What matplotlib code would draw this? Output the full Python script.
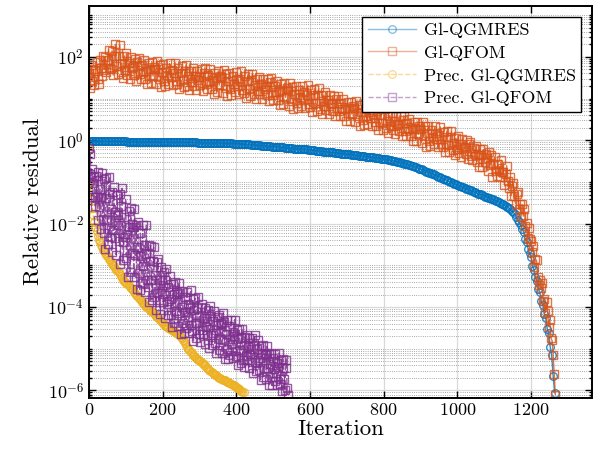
import numpy as np
import matplotlib
matplotlib.use("Agg")
import matplotlib.pyplot as plt
from matplotlib.ticker import FixedLocator, LogLocator, FuncFormatter, NullFormatter

# values are log10(relative residual)

# Gl-QGMRES, every 4th iteration
qgmres_iter = np.arange(0, 1265, 4)
qgmres_log = [
    -0.02, -0.02, -0.02, -0.02, -0.02, -0.03, -0.03, -0.03, -0.03, -0.03, -0.03, -0.03, -0.03, -0.03, -0.03, -0.03, -0.03, -0.03, -0.03, -0.03,
    -0.03, -0.03, -0.03, -0.03, -0.03, -0.03, -0.04, -0.04, -0.04, -0.04, -0.04, -0.04, -0.04, -0.04, -0.04, -0.04, -0.04, -0.04, -0.04, -0.04,
    -0.04, -0.04, -0.04, -0.04, -0.04, -0.04, -0.04, -0.04, -0.05, -0.05, -0.05, -0.05, -0.05, -0.05, -0.05, -0.05, -0.05, -0.05, -0.05, -0.05,
    -0.05, -0.05, -0.05, -0.05, -0.05, -0.05, -0.05, -0.05, -0.05, -0.05, -0.05, -0.05, -0.05, -0.05, -0.06, -0.06, -0.06, -0.06, -0.06, -0.06,
    -0.06, -0.06, -0.06, -0.06, -0.06, -0.06, -0.06, -0.06, -0.07, -0.07, -0.07, -0.07, -0.07, -0.07, -0.07, -0.07, -0.07, -0.07, -0.08, -0.08,
    -0.08, -0.08, -0.08, -0.09, -0.09, -0.09, -0.10, -0.10, -0.10, -0.10, -0.11, -0.11, -0.11, -0.12, -0.12, -0.12, -0.12, -0.13, -0.13, -0.13,
    -0.13, -0.14, -0.14, -0.14, -0.15, -0.15, -0.15, -0.16, -0.16, -0.16, -0.17, -0.17, -0.17, -0.18, -0.18, -0.18, -0.19, -0.19, -0.19, -0.20,
    -0.20, -0.20, -0.20, -0.21, -0.21, -0.21, -0.22, -0.22, -0.22, -0.23, -0.23, -0.23, -0.24, -0.24, -0.25, -0.25, -0.25, -0.26, -0.26, -0.27,
    -0.27, -0.27, -0.28, -0.28, -0.29, -0.29, -0.29, -0.30, -0.30, -0.31, -0.31, -0.32, -0.32, -0.32, -0.33, -0.33, -0.34, -0.34, -0.35, -0.35,
    -0.35, -0.36, -0.36, -0.37, -0.37, -0.37, -0.38, -0.38, -0.39, -0.39, -0.40, -0.40, -0.41, -0.41, -0.42, -0.42, -0.43, -0.43, -0.44, -0.44,
    -0.45, -0.45, -0.46, -0.47, -0.47, -0.48, -0.49, -0.50, -0.50, -0.51, -0.52, -0.53, -0.54, -0.55, -0.56, -0.57, -0.58, -0.59, -0.60, -0.61,
    -0.62, -0.63, -0.65, -0.66, -0.68, -0.69, -0.70, -0.72, -0.73, -0.75, -0.76, -0.78, -0.79, -0.81, -0.82, -0.84, -0.85, -0.87, -0.88, -0.90,
    -0.92, -0.93, -0.95, -0.96, -0.98, -1.00, -1.01, -1.03, -1.04, -1.06, -1.07, -1.09, -1.10, -1.12, -1.13, -1.15, -1.16, -1.17, -1.19, -1.20,
    -1.22, -1.23, -1.25, -1.26, -1.28, -1.29, -1.30, -1.32, -1.33, -1.35, -1.36, -1.38, -1.39, -1.40, -1.42, -1.43, -1.45, -1.46, -1.48, -1.50,
    -1.52, -1.54, -1.56, -1.58, -1.60, -1.63, -1.66, -1.69, -1.73, -1.78, -1.84, -1.91, -1.97, -2.04, -2.13, -2.19, -2.37, -2.44, -2.61, -2.71,
    -2.80, -3.02, -3.10, -3.29, -3.37, -3.56, -3.65, -3.86, -3.95, -4.17, -4.27, -4.52, -4.63, -4.95, -5.15, -5.65, -6.05,
]

# Gl-QFOM, every 3rd iteration
qfom_iter = np.arange(0, 1267, 3)
qfom_log = [
    1.62, 1.25, 1.80, 1.42, 1.70, 1.32, 1.67, 1.87, 1.47, 1.34, 1.92, 1.74, 1.54, 2.02, 1.69, 2.00, 1.63, 1.93, 2.17, 1.73,
    1.70, 2.15, 1.56, 2.01, 2.30, 1.79, 1.59, 2.02, 2.28, 1.63, 1.86, 1.49, 2.02, 1.69, 2.08, 1.57, 1.85, 1.46, 1.99, 1.73,
    1.77, 1.57, 1.95, 1.43, 1.87, 1.98, 1.58, 1.46, 1.80, 1.64, 1.93, 1.47, 1.67, 1.35, 1.85, 1.72, 1.38, 1.88, 1.54, 1.76,
    1.72, 1.35, 1.90, 1.52, 1.80, 1.28, 1.63, 1.83, 1.43, 1.30, 1.74, 1.56, 1.36, 1.84, 1.51, 1.69, 1.32, 1.62, 1.86, 1.42,
    1.34, 1.74, 1.22, 1.62, 1.78, 1.45, 1.27, 1.65, 1.81, 1.31, 1.53, 1.21, 1.67, 1.39, 1.73, 1.31, 1.55, 1.21, 1.67, 1.45,
    1.52, 1.32, 1.70, 1.18, 1.62, 1.74, 1.34, 1.22, 1.56, 1.40, 1.70, 1.24, 1.44, 1.12, 1.62, 1.50, 1.16, 1.66, 1.32, 1.54,
    1.51, 1.14, 1.69, 1.31, 1.59, 1.07, 1.42, 1.62, 1.22, 1.09, 1.53, 1.35, 1.15, 1.63, 1.30, 1.48, 1.11, 1.41, 1.65, 1.21,
    1.14, 1.54, 1.02, 1.42, 1.58, 1.24, 1.06, 1.44, 1.60, 1.10, 1.32, 1.00, 1.46, 1.18, 1.52, 1.10, 1.34, 1.00, 1.46, 1.24,
    1.29, 1.09, 1.47, 0.95, 1.39, 1.49, 1.09, 0.97, 1.31, 1.15, 1.43, 0.97, 1.17, 0.85, 1.35, 1.21, 0.87, 1.37, 1.03, 1.25,
    1.20, 0.83, 1.38, 1.00, 1.28, 0.75, 1.10, 1.30, 0.90, 0.77, 1.21, 1.03, 0.83, 1.31, 0.98, 1.15, 0.78, 1.08, 1.32, 0.88,
    0.80, 1.20, 0.68, 1.08, 1.24, 0.89, 0.71, 1.09, 1.25, 0.75, 0.95, 0.63, 1.09, 0.81, 1.15, 0.72, 0.96, 0.62, 1.08, 0.86,
    0.89, 0.71, 1.06, 0.59, 0.98, 1.06, 0.70, 0.59, 0.90, 0.75, 0.99, 0.58, 0.76, 0.47, 0.92, 0.78, 0.47, 0.92, 0.62, 0.82,
    0.77, 0.44, 0.93, 0.59, 0.84, 0.35, 0.67, 0.85, 0.49, 0.37, 0.74, 0.58, 0.40, 0.83, 0.53, 0.68, 0.34, 0.61, 0.83, 0.43,
    0.35, 0.71, 0.24, 0.60, 0.74, 0.42, 0.25, 0.60, 0.74, 0.29, 0.47, 0.18, 0.59, 0.34, 0.65, 0.25, 0.46, 0.16, 0.57, 0.37,
    0.40, 0.22, 0.57, 0.10, 0.49, 0.58, 0.22, 0.11, 0.42, 0.27, 0.51, 0.10, 0.28, -0.01, 0.44, 0.30, -0.01, 0.44, 0.14, 0.34,
    0.28, -0.06, 0.44, 0.10, 0.35, -0.15, 0.17, 0.35, -0.02, -0.13, 0.24, 0.08, -0.10, 0.33, 0.04, 0.17, -0.17, 0.10, 0.32, -0.08,
    -0.17, 0.19, -0.28, 0.08, 0.22, -0.11, -0.28, 0.07, 0.21, -0.24, -0.07, -0.36, 0.05, -0.20, 0.11, -0.30, -0.09, -0.39, 0.02, -0.18,
    -0.17, -0.34, 0.00, -0.46, -0.08, -0.04, -0.38, -0.48, -0.19, -0.32, -0.13, -0.52, -0.35, -0.63, -0.20, -0.36, -0.64, -0.22, -0.51, -0.32,
    -0.43, -0.74, -0.27, -0.60, -0.36, -0.87, -0.57, -0.40, -0.74, -0.85, -0.57, -0.72, -0.89, -0.48, -0.76, -0.75, -1.07, -0.81, -0.61, -0.98,
    -1.14, -0.88, -1.33, -1.09, -1.03, -1.34, -1.52, -1.29, -1.23, -1.66, -1.53, -1.83, -1.54, -1.82, -1.65, -2.05, -1.98, -2.34, -2.10, -2.37,
    -2.41, -2.67, -2.53, -3.03, -2.85, -2.88, -3.29, -3.48, -3.35, -3.55, -3.42, -3.85, -3.81, -4.13, -3.89, -4.09, -4.47, -4.30, -4.74, -4.80,
    -5.15, -5.60, -6.10,
]

# Prec. Gl-QGMRES, every 3rd iteration
pqgmres_iter = np.arange(0, 421, 3)
pqgmres_log = [
    -0.22, -1.00, -1.38, -1.62, -1.80, -1.95, -2.07, -2.18, -2.30, -2.38, -2.45, -2.51, -2.57, -2.62, -2.66, -2.70, -2.75, -2.80, -2.84, -2.88,
    -2.92, -2.96, -2.99, -3.02, -3.06, -3.10, -3.13, -3.16, -3.21, -3.25, -3.30, -3.34, -3.37, -3.39, -3.42, -3.45, -3.48, -3.51, -3.54, -3.57,
    -3.60, -3.64, -3.67, -3.71, -3.74, -3.78, -3.81, -3.84, -3.87, -3.90, -3.93, -3.96, -3.99, -4.01, -4.04, -4.07, -4.09, -4.11, -4.12, -4.15,
    -4.18, -4.21, -4.24, -4.27, -4.30, -4.33, -4.36, -4.39, -4.42, -4.44, -4.46, -4.48, -4.50, -4.52, -4.53, -4.55, -4.57, -4.58, -4.59, -4.61,
    -4.63, -4.65, -4.68, -4.71, -4.74, -4.78, -4.82, -4.87, -4.91, -4.96, -5.00, -5.04, -5.08, -5.11, -5.14, -5.17, -5.19, -5.22, -5.24, -5.26,
    -5.28, -5.30, -5.33, -5.35, -5.38, -5.40, -5.43, -5.46, -5.48, -5.51, -5.53, -5.55, -5.58, -5.60, -5.62, -5.64, -5.66, -5.68, -5.69, -5.71,
    -5.73, -5.74, -5.75, -5.76, -5.78, -5.79, -5.80, -5.81, -5.82, -5.84, -5.86, -5.88, -5.90, -5.91, -5.93, -5.95, -5.97, -5.99, -6.01, -6.03,
    -6.04,
]

# Prec. Gl-QFOM, every 2nd iteration
pqfom_iter = np.arange(0, 541, 2)
pqfom_log = [
    -0.19, -0.80, -0.33, -0.85, -0.69, -1.35, -1.03, -0.87, -1.37, -1.57, -0.86, -1.35, -1.92, -0.76, -1.59, -1.18, -2.13, -1.35, -0.78, -1.88,
    -2.22, -0.94, -2.61, -1.38, -0.90, -1.92, -2.49, -1.30, -0.87, -2.33, -1.65, -2.67, -1.24, -2.16, -1.13, -2.35, -1.72, -2.74, -1.31, -2.03,
    -1.80, -2.42, -1.29, -2.96, -1.58, -1.15, -2.43, -2.86, -1.84, -2.32, -1.40, -2.83, -2.25, -3.28, -1.70, -2.08, -3.15, -1.63, -2.70, -2.02,
    -2.07, -3.28, -1.65, -2.76, -2.03, -3.57, -2.55, -1.96, -3.18, -3.58, -2.23, -2.78, -3.43, -2.03, -3.01, -2.52, -3.64, -2.72, -2.04, -3.35,
    -3.53, -2.52, -3.87, -2.90, -2.53, -3.36, -3.83, -2.90, -2.57, -3.76, -3.23, -4.06, -2.92, -3.67, -2.85, -3.84, -3.34, -4.17, -3.03, -3.62,
    -3.47, -3.88, -3.15, -4.25, -3.35, -3.08, -3.92, -4.20, -3.53, -3.85, -3.25, -4.18, -3.80, -4.47, -3.44, -3.68, -4.39, -3.39, -4.09, -3.65,
    -3.69, -4.46, -3.42, -4.13, -3.66, -4.64, -3.99, -3.61, -4.38, -4.63, -3.77, -4.11, -4.51, -3.63, -4.24, -3.92, -4.62, -4.03, -3.60, -4.42,
    -4.58, -3.81, -4.81, -4.07, -3.78, -4.39, -4.73, -4.02, -3.76, -4.64, -4.23, -4.84, -3.99, -4.54, -3.92, -4.65, -4.27, -4.89, -4.03, -4.47,
    -4.34, -4.68, -4.06, -4.98, -4.21, -3.98, -4.68, -4.91, -4.34, -4.61, -4.09, -4.87, -4.55, -5.11, -4.24, -4.43, -5.02, -4.18, -4.77, -4.39,
    -4.40, -5.10, -4.15, -4.79, -4.36, -5.25, -4.65, -4.31, -5.01, -5.24, -4.45, -4.76, -5.14, -4.32, -4.88, -4.59, -5.23, -4.70, -4.30, -5.06,
    -5.18, -4.54, -5.38, -4.77, -4.53, -5.04, -5.33, -4.73, -4.53, -5.27, -4.92, -5.44, -4.72, -5.18, -4.66, -5.28, -4.96, -5.47, -4.75, -5.12,
    -5.00, -5.31, -4.74, -5.59, -4.90, -4.68, -5.32, -5.53, -5.01, -5.26, -4.79, -5.51, -5.21, -5.74, -4.94, -5.13, -5.67, -4.91, -5.45, -5.11,
    -5.15, -5.72, -4.94, -5.47, -5.13, -5.86, -5.37, -5.09, -5.68, -5.87, -5.22, -5.48, -5.78, -5.12, -5.58, -5.34, -5.87, -5.43, -5.10, -5.72,
    -5.84, -5.26, -6.02, -5.46, -5.25, -5.72, -5.98, -5.45, -5.26, -5.93, -6.10,
]

labels = ["Gl-QGMRES", "Gl-QFOM", "Prec. Gl-QGMRES", "Prec. Gl-QFOM"]
colors = ["#0072BD", "#D95319", "#EDB120", "#7E2F8E"]

plt.rcParams["font.family"] = "serif"
plt.rcParams["font.serif"] = ["cmr10"]
plt.rcParams["mathtext.fontset"] = "cm"
plt.rcParams["axes.formatter.use_mathtext"] = True

fig = plt.figure(figsize=(5.96, 4.57), dpi=100)
ax = fig.add_axes([0.149, 0.130, 0.844, 0.857])

series = [
    (qgmres_iter, qgmres_log, "-", "o"),
    (qfom_iter, qfom_log, "-", "s"),
    (pqgmres_iter, pqgmres_log, "--", "o"),
    (pqfom_iter, pqfom_log, "--", "s"),
]
for (x, y, ls, mk), lab, c in zip(series, labels, colors):
    ax.semilogy(x, 10.0 ** np.asarray(y), ls=ls, marker=mk, color=c,
                mfc="none", mec=c, ms=5.5, mew=1.0, lw=1.0, alpha=0.8,
                label=lab)

ax.set_xlim(0, 1365)
ax.set_ylim(10 ** -6.17, 10 ** 3.22)
ax.set_xticks([0, 200, 400, 600, 800, 1000, 1200])
ax.yaxis.set_major_locator(FixedLocator([1e-6, 1e-4, 1e-2, 1e0, 1e2]))
ax.yaxis.set_major_formatter(FuncFormatter(lambda v, p: r"$10^{%d}$" % round(np.log10(v))))
ax.yaxis.set_minor_locator(LogLocator(base=10, subs=np.arange(1, 10), numticks=30))
ax.yaxis.set_minor_formatter(NullFormatter())

ax.grid(True, which="major", color="0.85", lw=0.9, ls="-")
ax.grid(True, which="minor", axis="y", color="0.55", lw=0.6, ls=":")
ax.set_axisbelow(True)

ax.tick_params(which="both", direction="in", top=True, right=True,
               labelsize=13, width=1.0)
ax.tick_params(which="major", length=5)
ax.tick_params(which="minor", length=2.5)
for s in ax.spines.values():
    s.set_linewidth(1.4)

ax.set_xlabel("Iteration", fontsize=16.5, labelpad=1)
ax.set_ylabel("Relative residual", fontsize=16.5, labelpad=3)

leg = ax.legend(loc="upper right", fontsize=13, fancybox=False, framealpha=1,
                edgecolor="black", handlelength=2.7, borderaxespad=0.6,
                borderpad=0.3, labelspacing=0.4, handletextpad=0.4)
leg.get_frame().set_linewidth(1.0)
for h in leg.legend_handles:
    h.set_alpha(0.45)

fig.savefig("out.png", dpi=100)
